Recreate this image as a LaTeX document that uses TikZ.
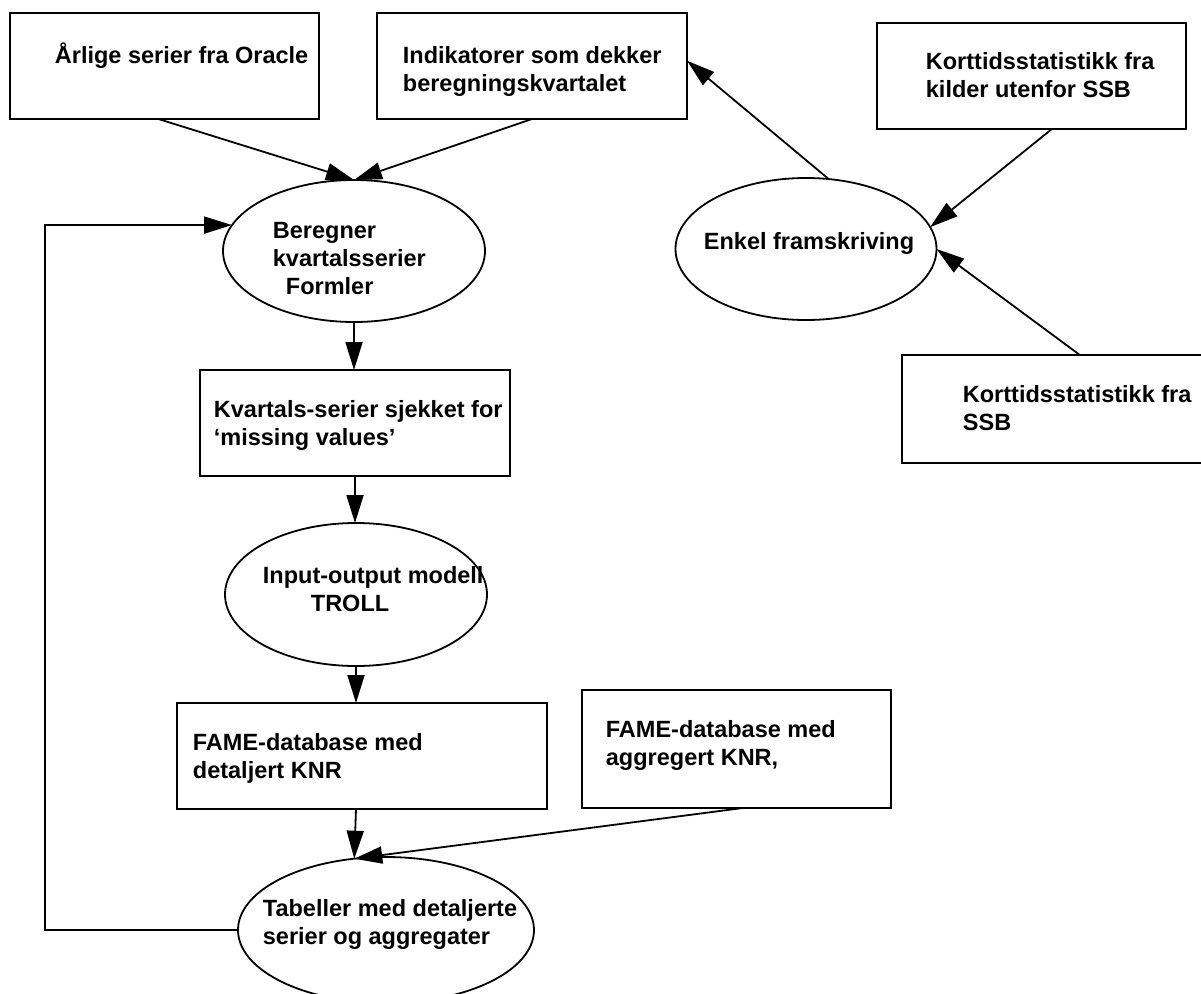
\documentclass[tikz,border=0pt]{standalone}
\usepackage{fontspec}
\setmainfont{Liberation Sans}
\usetikzlibrary{arrows.meta,calc,shapes.geometric}
\begin{document}
\begin{tikzpicture}[x=1pt,y=-1pt,line width=1.8pt,
  box/.style={draw,rectangle,inner sep=0pt,outer sep=0pt},
  oval/.style={draw,ellipse,inner sep=0pt,outer sep=0pt},
  lbl/.style={anchor=base west,inner sep=0pt,font={\bfseries\fontsize{23.5}{28}\selectfont}},
  arr/.style={-{Triangle[length=28pt,width=17pt]}}]
\useasboundingbox (0,0) rectangle (1201,993);
\fill[white] (0,0) rectangle (1201,993);

% boxes
\node[box,minimum width=309pt,minimum height=106pt] (ora) at (164.5,66) {};
\node[box,minimum width=310pt,minimum height=106pt] (ind) at (532,66) {};
\node[box,minimum width=309pt,minimum height=106pt] (kk)  at (1031.5,76) {};
\node[box,minimum width=312pt,minimum height=108pt] (ks)  at (1058,409) {};
\node[box,minimum width=310pt,minimum height=106pt] (kv)  at (355,423) {};
\node[box,minimum width=370pt,minimum height=106pt] (det) at (362,756) {};
\node[box,minimum width=309pt,minimum height=118pt] (agg) at (736.5,749) {};

% ellipses
\node[oval,minimum width=262pt,minimum height=142pt] (ber) at (354,251) {};
\node[oval,minimum width=261pt,minimum height=142pt] (enk) at (806,249) {};
\node[oval,minimum width=262pt,minimum height=143pt] (io)  at (356,594.5) {};
\node[oval,minimum width=296pt,minimum height=146pt] (tab) at (386,930) {};

% labels
\node[lbl] (tora) at (54,63) {Årlige serier fra Oracle};
\node[lbl] (tind) at (402,63) {\begin{tabular}[t]{@{}l@{}}Indikatorer som dekker\\beregningskvartalet\end{tabular}};
\node[lbl] (tkk) at (925,69) {\begin{tabular}[t]{@{}l@{}}Korttidsstatistikk fra\\kilder utenfor SSB\end{tabular}};
\node[lbl] (tks) at (962,402) {\begin{tabular}[t]{@{}l@{}}Korttidsstatistikk fra\\SSB\end{tabular}};
\node[lbl] (tber1) at (272,238) {Beregner};
\node[lbl] (tber2) at (272,266) {kvartalsserier};
\node[lbl] (tber3) at (285,294) {Formler};
\node[lbl] (tenk) at (703,249) {Enkel framskriving};
\node[lbl] (tkv) at (213,417) {\begin{tabular}[t]{@{}l@{}}Kvartals-serier sjekket for\\‘missing values’\end{tabular}};
\node[lbl] (tio1) at (262,583) {Input-output modell};
\node[lbl] (tio2) at (310,611) {TROLL};
\node[lbl] (tdet) at (192,750) {\begin{tabular}[t]{@{}l@{}}FAME-database med\\detaljert KNR\end{tabular}};
\node[lbl] (tagg) at (605,737) {\begin{tabular}[t]{@{}l@{}}FAME-database med\\aggregert KNR,\end{tabular}};
\node[lbl] (ttab) at (262,916) {\begin{tabular}[t]{@{}l@{}}Tabeller med detaljerte\\serier og aggregater\end{tabular}};

% connectors
\draw[arr] ($(ora.south west)!0.48!(ora.south east)$) -- (ber.north);
\draw[arr] (ind.south) -- (ber.north);
\draw[arr] (enk.72) -- ($(ind.north east)!0.45!(ind.south east)$);
\draw[arr] ($(kk.south west)!0.566!(kk.south east)$) -- (enk.10);
\draw[arr] ($(ks.north west)!0.57!(ks.north east)$) -- (enk.east);
\draw[arr] (ber.south) -- (ber.south |- kv.north);
\draw[arr] (kv.south) -- (kv.south |- io.north);
\draw[arr] (io.south) -- (io.south |- det.north);
\draw[arr] (det.south -| io.south) -- (tab.114);
\draw[arr] ($(agg.south west)!0.52!(agg.south east)$) -- (tab.114);
\coordinate (fbx) at (45,930);
\draw[arr] (tab.west) -- (fbx) |- (ber.168.5);
\end{tikzpicture}
\end{document}
